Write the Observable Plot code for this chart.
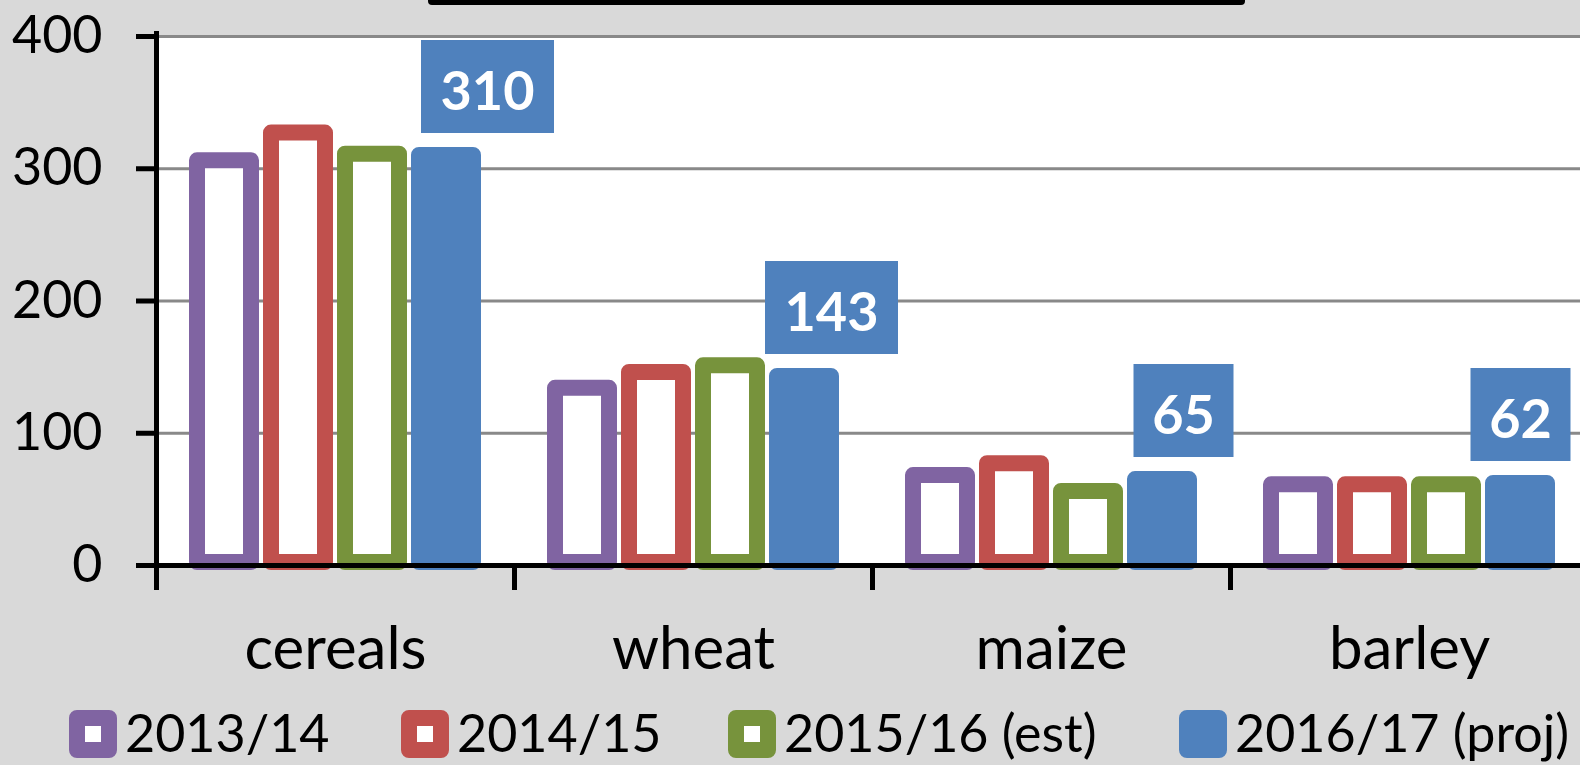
<!DOCTYPE html>
<html><head><meta charset="utf-8">
<script src="https://cdn.jsdelivr.net/npm/d3@7"></script>
<script src="https://cdn.jsdelivr.net/npm/@observablehq/plot@0.6"></script>
<style>
html,body{margin:0;padding:0;background:#d9d9d9;overflow:hidden;width:1580px;height:765px;}
#wrap{position:relative;width:1580px;height:765px;overflow:hidden;}
#chart{position:absolute;left:0;top:0;}
#titlebar{position:absolute;left:428px;top:-12px;width:817px;height:17px;background:#000;border-radius:4px;}
#legend{position:absolute;left:0;top:704px;width:1580px;height:56px;font-family:Lato,sans-serif;font-size:52px;color:#000;white-space:nowrap;}
.item{position:absolute;top:0;display:flex;align-items:center;height:56px;}
.item svg{display:block;margin-right:8px;flex:none;position:relative;top:2px;}
.item span{display:block;line-height:56px;}
</style></head>
<body><div id="wrap"><div id="chart"></div><div id="titlebar"></div><div id="legend"></div></div>
<script>
// ---- data ----
const categories = ["cereals", "wheat", "maize", "barley"];
const seriesNames = ["2013/14", "2014/15", "2015/16 (est)", "2016/17 (proj)"];
const values2013 = [306, 134, 68, 61];
const values2014 = [327, 146, 77, 61];
const values2015 = [311, 151, 56, 61];
const values2016 = [310, 143, 65, 62];
const yTicks = [0, 100, 200, 300, 400];

// ---- styles ----
const seriesColors = ["#8064a2", "#c0504d", "#77933c", "#4f81bd"];
const labelNudgeX = [41, 27, 21, 0];     // label box horizontal nudges (px)
const legendLeft = [69, 401, 728, 1179]; // legend item positions (px)

const seriesValues = [values2013, values2014, values2015, values2016];
const rows = categories.flatMap((c, i) =>
  seriesNames.map((s, j) => ({category: c, series: s, value: seriesValues[j][i], k: j})));
const labelRows = rows.filter(d => d.k === 3);

const W = 1588, H = 690, mTop = 36, mBottom = 125, mLeft = 156;
const innerH = H - mTop - mBottom;

const boxSymbol = (w, h) => ({draw(ctx) { ctx.rect(-w / 2, -h / 2, w, h); }});

const labelMarks = labelRows.flatMap((d, i) => {
  const txt = String(d.value);
  const w = 33 * txt.length + 34;
  return [
    Plot.dot([d], {fx: "category", x: "series", y: "value", r: 10,
      symbol: boxSymbol(w, 93), fill: seriesColors[3], stroke: "none",
      dx: labelNudgeX[i], dy: -69}),
    Plot.text([d], {fx: "category", x: "series", y: "value", text: () => txt,
      fill: "white", fontWeight: "bold", fontSize: 54, fontFamily: "Lato",
      dx: labelNudgeX[i], dy: -63})
  ];
});

const chart = Plot.plot({
  width: W, height: H,
  marginTop: mTop, marginBottom: mBottom, marginLeft: mLeft, marginRight: 0,
  style: {maxWidth: "none", background: "transparent", fontFamily: "Lato", color: "black", overflow: "hidden"},
  fx: {domain: categories, padding: 0, label: null},
  x: {domain: seriesNames, paddingInner: 0.273, paddingOuter: 0.546, axis: null},
  y: {domain: [0, 400], label: null},
  color: {type: "identity"},
  marks: [
    Plot.frame({fill: "white", stroke: "none", insetLeft: -1, insetRight: -1}),
    Plot.gridY(yTicks.filter(t => t > 0), {stroke: "#898989", strokeWidth: 3, strokeOpacity: 1}),
    Plot.barY(rows, {
      fx: "category", x: "series", y: "value",
      fill: d => d.k === 3 ? seriesColors[3] : "white",
      stroke: d => seriesColors[d.k],
      strokeWidth: 16, strokeLinejoin: "round", insetBottom: 3
    }),
    Plot.ruleY([0], {stroke: "black", strokeWidth: 5}),
    Plot.frame({anchor: "left", stroke: "black", strokeWidth: 5, insetTop: innerH, insetBottom: -22}),
    Plot.frame({anchor: "left", facetAnchor: "left", stroke: "black", strokeWidth: 5, insetTop: -3, insetBottom: -22}),
    Plot.axisY(yTicks, {tickSize: 20, tickPadding: 34, fontSize: 52, stroke: "black", strokeWidth: 5, color: "black", label: null}),
    Plot.axisFx({anchor: "bottom", tickSize: 0, tickPadding: 61, fontSize: 60, color: "black", label: null}),
    ...labelMarks
  ]
});
document.getElementById("chart").appendChild(chart);

// ---- legend ----
const legend = document.getElementById("legend");
seriesNames.forEach((s, j) => {
  const item = document.createElement("div");
  item.className = "item";
  item.style.left = legendLeft[j] + "px";
  const fill = j === 3 ? seriesColors[3] : "white";
  item.innerHTML = `<svg width="48" height="48"><rect x="8" y="8" width="32" height="32" fill="${fill}" stroke="${seriesColors[j]}" stroke-width="16" stroke-linejoin="round"/></svg><span>${s}</span>`;
  legend.appendChild(item);
});
</script>
</body></html>
